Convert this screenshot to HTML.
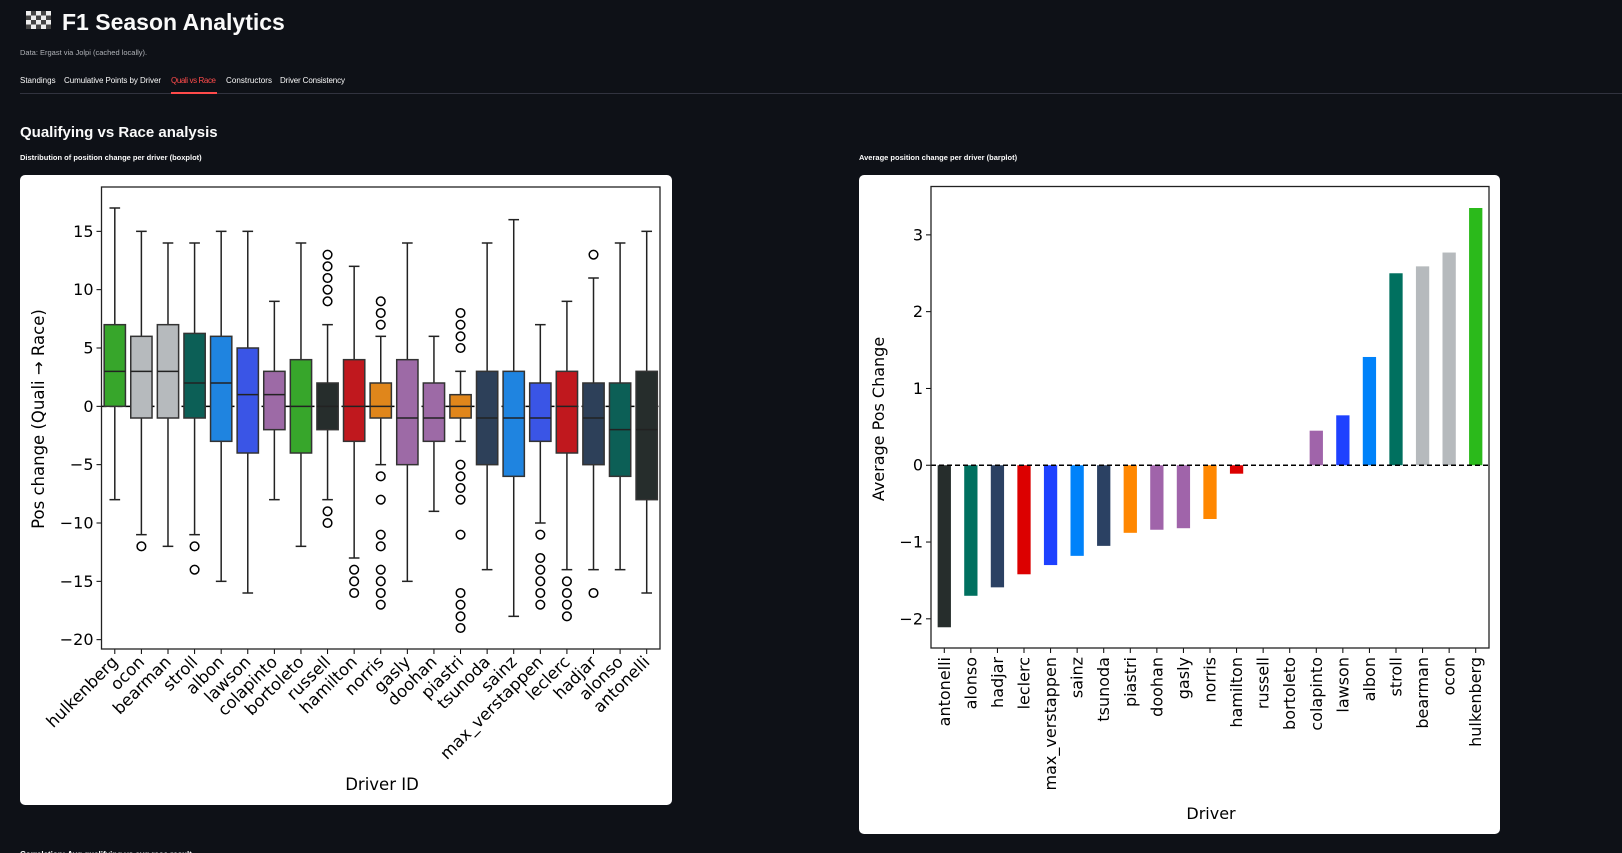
<!DOCTYPE html>
<html><head><meta charset="utf-8"><style>
html,body{margin:0;padding:0;background:#0e1117;width:1622px;height:853px;overflow:hidden}
svg{display:block}
.ui{font-family:"Liberation Sans",sans-serif;fill:#fafafa}
.mpl{font-family:"DejaVu Sans","Liberation Sans",sans-serif;fill:#000}
</style></head><body>
<svg id="root" width="1622" height="853" xmlns="http://www.w3.org/2000/svg">
<g id="flag"></g>
<text class="ui" x="62" y="30" font-size="23" font-weight="bold">F1 Season Analytics</text>
<text class="ui" x="20" y="55" font-size="7.5" style="fill:#b0b3b8">Data: Ergast via Jolpi (cached locally).</text>
<g font-size="8" class="ui">
<text x="20" y="83" class="ui">Standings</text>
<text x="64" y="83" class="ui" textLength="97">Cumulative Points by Driver</text>
<text x="171" y="83" class="ui" textLength="45" style="fill:#ff4b4b">Quali vs Race</text>
<text x="226" y="83" class="ui" textLength="46">Constructors</text>
<text x="280" y="83" class="ui" textLength="65">Driver Consistency</text>
</g>
<rect x="20" y="93" width="1602" height="1" fill="#31333f"/>
<rect x="171" y="92" width="46" height="2" fill="#ff4b4b"/>
<text class="ui" x="20" y="137" font-size="15" font-weight="bold">Qualifying vs Race analysis</text>
<text class="ui" x="20" y="160" font-size="7.5" font-weight="bold">Distribution of position change per driver (boxplot)</text>
<text class="ui" x="859" y="160" font-size="7.5" font-weight="bold">Average position change per driver (barplot)</text>
<rect x="20" y="175" width="652" height="630" rx="5" fill="#fff"/>
<rect x="859" y="175" width="641" height="659" rx="5" fill="#fff"/>
<text class="ui" x="20" y="857" font-size="8" font-weight="bold">Correlation: Avg qualifying vs avg race result</text>
<g id="box"></g>
<g id="bar"></g>
</svg>
<script>
// ---- boxplot data ----
const boxDrivers=["hulkenberg","ocon","bearman","stroll","albon","lawson","colapinto","bortoleto","russell","hamilton","norris","gasly","doohan","piastri","tsunoda","sainz","max_verstappen","leclerc","hadjar","alonso","antonelli"];
const boxQ1=[0,-1,-1,-1,-3,-4,-2,-4,-2,-3,-1,-5,-3,-1,-5,-6,-3,-4,-5,-6,-8];
const boxMed=[3,3,3,2,2,1,1,0,0,0,0,-1,-1,0,-1,-1,-1,0,-1,-2,-2];
const boxQ3=[7,6,7,6.25,6,5,3,4,2,4,2,4,2,1,3,3,2,3,2,2,3];
const boxLo=[-8,-11,-12,-11,-15,-16,-8,-12,-8,-13,-5,-15,-9,-3,-14,-18,-10,-14,-14,-14,-16];
const boxHi=[17,15,14,14,15,15,9,14,7,12,6,14,6,3,14,16,7,9,11,14,15];
const boxOut=[[],[-12],[],[-12,-14],[],[],[],[],[9,10,11,12,13,-9,-10],[-14,-15,-16],[7,8,9,-6,-8,-11,-12,-14,-15,-16,-17],[],[],[5,6,7,8,-5,-6,-7,-8,-11,-16,-17,-18,-19],[],[],[-11,-13,-14,-15,-16,-17],[-15,-16,-17,-18],[13,-16],[],[]];
const boxColors=["#37a62b","#b6babd","#b6babd","#0c5f56","#1f84e0","#3a55e6","#9d6aa6","#37a62b","#262d2c","#c0181e","#e0861b","#9d6aa6","#9d6aa6","#e0861b","#2d4059","#1f84e0","#3a55e6","#c0181e","#2d4059","#0c5f56","#262d2c"];
const boxTicks=[15,10,5,0,-5,-10,-15,-20];
// ---- barplot data ----
const barDrivers=["antonelli","alonso","hadjar","leclerc","max_verstappen","sainz","tsunoda","piastri","doohan","gasly","norris","hamilton","russell","bortoleto","colapinto","lawson","albon","stroll","bearman","ocon","hulkenberg"];
const barValues=[-2.11,-1.70,-1.59,-1.42,-1.30,-1.18,-1.05,-0.88,-0.84,-0.82,-0.70,-0.11,0,0,0.45,0.65,1.41,2.50,2.59,2.77,3.35];
const barColors=["#262d2c","#00705f","#2b4163","#dc0000","#1e41ff","#0082fa","#2b4163","#ff8700","#a064aa","#a064aa","#ff8700","#dc0000","#1e41ff","#2fba1f","#a064aa","#1e41ff","#0082fa","#00705f","#b6babd","#b6babd","#2bba1b"];
const barTicks=[3,2,1,0,-1,-2];

const NS="http://www.w3.org/2000/svg";
function mk(tag,attrs,parent){const e=document.createElementNS(NS,tag);for(const k in attrs)e.setAttribute(k,attrs[k]);parent.appendChild(e);return e;}

const flag=document.getElementById('flag');
for(let r=0;r<4;r++)for(let c=0;c<5;c++){const s=mk('rect',{x:26+c*5,y:11+r*4.5,width:5,height:4.5,fill:(r+c)%2?'#444':'#eee'},flag);

}

(function(){
const g=document.getElementById('box');
const L=101.5,R=660,T=187,B=649,ymin=-20.8,ymax=18.8;
const n=boxDrivers.length,bw=(R-L)/n;
const y=v=>T+(ymax-v)/(ymax-ymin)*(B-T);
const x=i=>L+(i+0.5)*bw;
mk('line',{x1:L,x2:R,y1:y(0),y2:y(0),stroke:'#000','stroke-width':1.5,'stroke-dasharray':'5,3'},g);
for(let i=0;i<n;i++){
 const cx=x(i),w=bw*0.8,cw=w/2;
 const grp=mk('g',{},g);
 
 
 mk('line',{x1:cx,x2:cx,y1:y(boxQ3[i]),y2:y(boxHi[i]),stroke:'#222','stroke-width':1.5},grp);
 mk('line',{x1:cx,x2:cx,y1:y(boxQ1[i]),y2:y(boxLo[i]),stroke:'#222','stroke-width':1.5},grp);
 mk('line',{x1:cx-cw/2,x2:cx+cw/2,y1:y(boxHi[i]),y2:y(boxHi[i]),stroke:'#222','stroke-width':1.5},grp);
 mk('line',{x1:cx-cw/2,x2:cx+cw/2,y1:y(boxLo[i]),y2:y(boxLo[i]),stroke:'#222','stroke-width':1.5},grp);
 mk('rect',{x:cx-w/2,y:y(boxQ3[i]),width:w,height:y(boxQ1[i])-y(boxQ3[i]),fill:boxColors[i],stroke:'#333','stroke-width':1.5},grp);
 mk('line',{x1:cx-w/2,x2:cx+w/2,y1:y(boxMed[i]),y2:y(boxMed[i]),stroke:'#222','stroke-width':1.5},grp);
 boxOut[i].forEach(v=>{const c=mk('circle',{cx:cx,cy:y(v),r:4.3,fill:'none',stroke:'#000','stroke-width':1.5},grp);
  
  });
 mk('line',{x1:cx,x2:cx,y1:B,y2:B+5,stroke:'#000','stroke-width':1},g);
 const t=mk('text',{x:cx+4,y:B+14,'text-anchor':'end','font-size':16.5,class:'mpl',transform:`rotate(-45 ${cx+4} ${B+14})`},g);
 t.textContent=boxDrivers[i];
 
 
}
boxTicks.forEach(v=>{mk('line',{x1:L-5,x2:L,y1:y(v),y2:y(v),stroke:'#000','stroke-width':1},g);
 const t=mk('text',{x:L-8,y:y(v)+5.5,'text-anchor':'end','font-size':16,class:'mpl'},g);t.textContent=String(v).replace('-','\u2212');
 
 });
const fr=mk('rect',{x:L,y:T,width:R-L,height:B-T,fill:'none',stroke:'#222','stroke-width':1.3},g);


const yl=mk('text',{x:0,y:0,'text-anchor':'middle','font-size':16.5,class:'mpl',transform:'translate(44 419) rotate(-90)'},g);yl.textContent='Pos change (Quali \u2192 Race)';


const xl=mk('text',{x:382,y:790,'text-anchor':'middle','font-size':16.5,class:'mpl'},g);xl.textContent='Driver ID';


})();

(function(){
const g=document.getElementById('bar');
const L=931,R=1489,T=186.5,B=648,ymin=-2.38,ymax=3.63;
const n=barDrivers.length,bw=(R-L)/n;
const y=v=>T+(ymax-v)/(ymax-ymin)*(B-T);
const x=i=>L+(i+0.5)*bw;
for(let i=0;i<n;i++){
 const cx=x(i),w=bw*0.5,v=barValues[i];
 const r=mk('rect',{x:cx-w/2,y:Math.min(y(v),y(0)),width:w,height:Math.abs(y(v)-y(0)),fill:barColors[i]},g);
 
 
 mk('line',{x1:cx,x2:cx,y1:B,y2:B+5,stroke:'#000','stroke-width':1},g);
 const t=mk('text',{x:cx+5.5,y:B+9,'text-anchor':'end','font-size':16,class:'mpl',transform:`rotate(-90 ${cx+5.5} ${B+9})`},g);
 t.textContent=barDrivers[i];
 
 
}
mk('line',{x1:L,x2:R,y1:y(0),y2:y(0),stroke:'#000','stroke-width':1.5,'stroke-dasharray':'5,3'},g);
barTicks.forEach(v=>{mk('line',{x1:L-5,x2:L,y1:y(v),y2:y(v),stroke:'#000','stroke-width':1},g);
 const t=mk('text',{x:L-8,y:y(v)+5.5,'text-anchor':'end','font-size':16,class:'mpl'},g);t.textContent=String(v).replace('-','\u2212');
 
 });
const fr=mk('rect',{x:L,y:T,width:R-L,height:B-T,fill:'none',stroke:'#222','stroke-width':1.3},g);


const yl=mk('text',{x:0,y:0,'text-anchor':'middle','font-size':16,class:'mpl',transform:'translate(884 419) rotate(-90)'},g);yl.textContent='Average Pos Change';


const xl=mk('text',{x:1211,y:819,'text-anchor':'middle','font-size':16,class:'mpl'},g);xl.textContent='Driver';


})();
</script>
</body></html>
